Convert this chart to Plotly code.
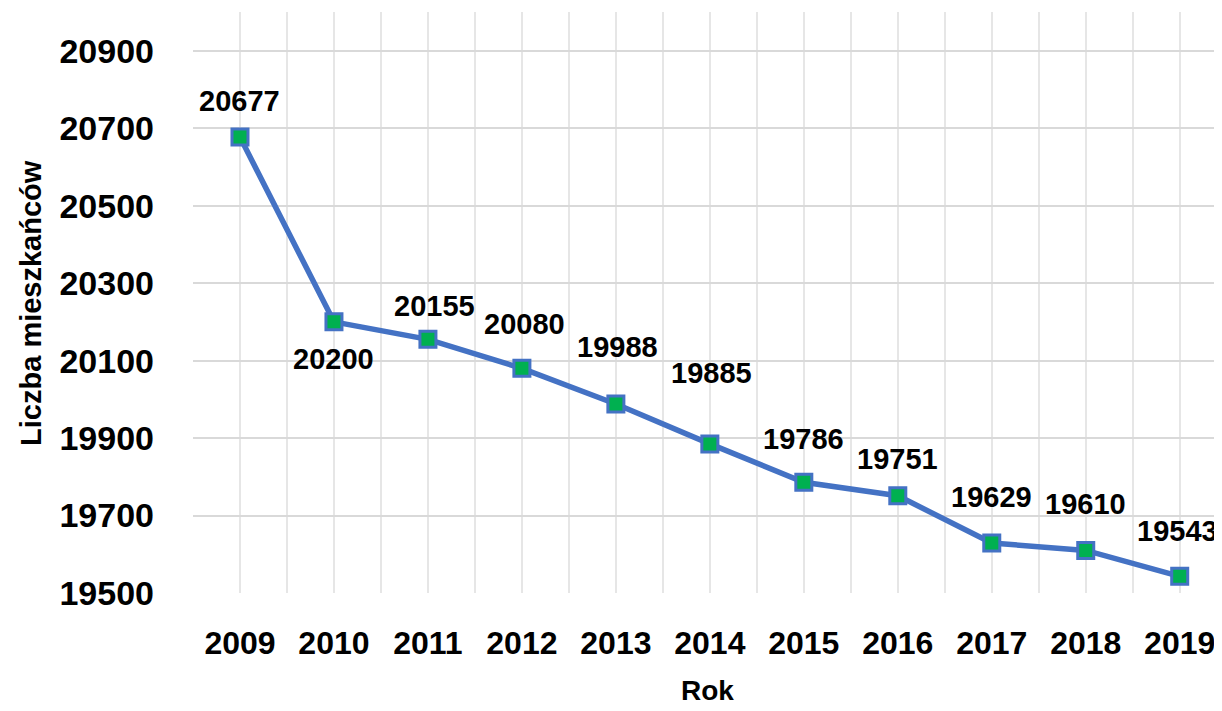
import plotly.graph_objects as go

# population data
years = [2009, 2010, 2011, 2012, 2013, 2014, 2015, 2016, 2017, 2018, 2019]
population = [20677, 20200, 20155, 20080, 19988, 19885, 19786, 19751, 19629, 19610, 19543]
y_ticks = [19500, 19700, 19900, 20100, 20300, 20500, 20700, 20900]

# label offsets (px) - labels were hand placed in the source
label_dx = [0, 0, 7, 3, 2, 2, 0, 0, 0, 0, -2]
label_dy = [-36, 37, -33, -44, -57, -71, -43, -37, -46, -46, -45]

FONT = "Liberation Sans, Arial"
BLUE = "#4472C4"
GREEN = "#00B050"

fig = go.Figure()

fig.add_trace(
    go.Scatter(
        x=years,
        y=population,
        mode="lines+markers",
        line=dict(color=BLUE, width=5.5),
        marker=dict(symbol="square", size=16, color=GREEN,
                    line=dict(color=BLUE, width=3)),
        showlegend=False,
        hoverinfo="x+y",
    )
)

for yr, val, dx, dy in zip(years, population, label_dx, label_dy):
    fig.add_annotation(
        x=yr, y=val, text=str(val), showarrow=False,
        xshift=dx, yshift=-dy,
        font=dict(family=FONT, size=29, color="black", weight="bold"),
    )

# axis titles
fig.add_annotation(
    text="Liczba mieszkańców", xref="paper", yref="paper",
    x=-0.158, y=0.5, xanchor="center", yanchor="middle",
    textangle=-90, showarrow=False,
    font=dict(family=FONT, size=29, weight="bold"),
)
fig.add_annotation(
    text="Rok", xref="paper", yref="paper",
    x=0.5, y=-0.168, xanchor="center", yanchor="middle", showarrow=False,
    font=dict(family=FONT, size=28, weight="bold"),
)

# page body has an 8px margin, so the figure is a bit smaller than the window
fig.update_layout(
    width=1214,
    height=703,
    margin=dict(l=185, r=0, t=4, b=118),
    plot_bgcolor="white",
    paper_bgcolor="white",
    font=dict(family=FONT, color="black"),
)

fig.update_xaxes(
    range=[2008.5, 2019.45],
    tickvals=years,
    ticktext=[str(y) for y in years],
    tickfont=dict(size=32, weight="bold"),
    ticklabelstandoff=28,
    showgrid=True,
    gridcolor="#E6E6E6",
    gridwidth=1.5,
    minor=dict(dtick=1, tick0=2008.5, showgrid=True, gridcolor="#E6E6E6", gridwidth=1.5),
    zeroline=False,
    showline=False,
    automargin=False,
)

fig.update_yaxes(
    range=[19500, 21000],
    tickvals=y_ticks,
    tickformat="d",
    tickfont=dict(size=34, weight="bold"),
    ticklabelstandoff=38,
    showgrid=True,
    gridcolor="#D9D9D9",
    gridwidth=2,
    zeroline=False,
    showline=False,
    automargin=False,
)

fig.write_html("out.html")
